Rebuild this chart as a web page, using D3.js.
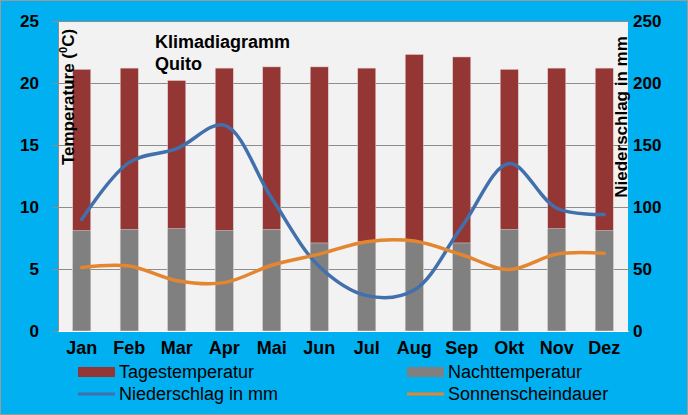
<!DOCTYPE html>
<html><head><meta charset="utf-8">
<script src="https://cdn.jsdelivr.net/npm/d3@7"></script>
<style>html,body{margin:0;padding:0;background:#00B0F0;}svg{display:block;}</style>
</head><body>
<script>
const months = ["Jan","Feb","Mar","Apr","Mai","Jun","Jul","Aug","Sep","Okt","Nov","Dez"];
const tagestemperatur = [21.1,21.2,20.2,21.2,21.3,21.3,21.2,22.3,22.1,21.1,21.2,21.2];
const nachttemperatur = [8.1,8.2,8.25,8.1,8.2,7.1,7.2,7.2,7.1,8.2,8.25,8.1];
const niederschlag = [90,136,147,166,107,52,28.5,33,84,135,99,94];
const sonnenschein = [5.13,5.24,4.06,3.9,5.3,6.2,7.2,7.25,6.15,4.95,6.2,6.26];
const leftTicks = [0,5,10,15,20,25];
const rightTicks = [0,50,100,150,200,250];

const W=688,H=415;
const m={l:58,r:628,t:21,b:331};
const svg=d3.select("body").append("svg").attr("width",W).attr("height",H);
svg.append("rect").attr("x",0.5).attr("y",0.5).attr("width",W-1).attr("height",H-1).attr("fill","#00B0F0").attr("stroke","#9a9a9a");
svg.append("rect").attr("x",m.l).attr("y",m.t).attr("width",m.r-m.l).attr("height",m.b-m.t).attr("fill","#F2F2F2");

const x=d3.scaleBand().domain(months).range([m.l,m.r]).padding(0);
const yL=d3.scaleLinear().domain([0,25]).range([m.b,m.t]);
const yR=d3.scaleLinear().domain([0,250]).range([m.b,m.t]);
const font="'Liberation Sans', Arial, sans-serif";

// grid
svg.append("g").selectAll("line").data(leftTicks.slice(1)).join("line")
  .attr("x1",m.l).attr("x2",m.r).attr("y1",d=>Math.round(yL(d))+0.5).attr("y2",d=>Math.round(yL(d))+0.5)
  .attr("stroke","#8c8c8c").attr("stroke-width",1);

// bars
const bw=x.bandwidth()*0.38;
svg.append("g").selectAll("rect").data(months).join("rect")
  .attr("x",d=>x(d)+x.bandwidth()/2-bw/2).attr("width",bw)
  .attr("y",(d,i)=>yL(tagestemperatur[i])).attr("height",(d,i)=>yL(0)-yL(tagestemperatur[i]))
  .attr("fill","#943634").attr("stroke","#e6d0d0").attr("stroke-width",0.5);
svg.append("g").selectAll("rect").data(months).join("rect")
  .attr("x",d=>x(d)+x.bandwidth()/2-bw/2).attr("width",bw)
  .attr("y",(d,i)=>yL(nachttemperatur[i])).attr("height",(d,i)=>yL(0)-yL(nachttemperatur[i]))
  .attr("fill","#808080").attr("stroke","#dcdcdc").attr("stroke-width",0.5);

// lines
const cx=d=>x(d)+x.bandwidth()/2;
const lineR=d3.line().x((d,i)=>cx(months[i])).y(d=>yR(d)).curve(d3.curveCatmullRom.alpha(0.5));
const lineL=d3.line().x((d,i)=>cx(months[i])).y(d=>yL(d)).curve(d3.curveCatmullRom.alpha(0.5));
svg.append("path").attr("d",lineR(niederschlag)).attr("fill","none").attr("stroke","#4170AC").attr("stroke-width",3.5).attr("stroke-linecap","round");
svg.append("path").attr("d",lineL(sonnenschein)).attr("fill","none").attr("stroke","#E3862F").attr("stroke-width",3.5).attr("stroke-linecap","round");

// axes
const axL=d3.axisLeft(yL).tickValues(leftTicks).tickSize(6).tickPadding(13);
const gL=svg.append("g").attr("transform",`translate(${m.l},0)`).call(axL);
gL.select(".domain").attr("stroke","#8c8c8c");
gL.selectAll(".tick line").attr("stroke","#8c8c8c");
gL.selectAll("text").attr("font-family",font).attr("font-size",17).attr("font-weight","bold").attr("fill","#000");

const axR=d3.axisRight(yR).tickValues(rightTicks).tickSize(2).tickPadding(3);
const gR=svg.append("g").attr("transform",`translate(${m.r},0)`).call(axR);
gR.select(".domain").remove();
gR.selectAll(".tick line").attr("stroke","#8c8c8c");
gR.selectAll("text").attr("font-family",font).attr("font-size",17).attr("font-weight","bold").attr("fill","#000");

const axB=d3.axisBottom(x).tickSize(0).tickPadding(10);
const gB=svg.append("g").attr("transform",`translate(0,${m.b})`).call(axB);
gB.select(".domain").attr("stroke","#ffffff");
gB.selectAll("text").attr("font-family",font).attr("font-size",18).attr("font-weight","bold").attr("fill","#000");

// axis titles
const tl=svg.append("text").attr("transform","translate(74,97) rotate(-90)").attr("text-anchor","middle")
  .attr("font-family",font).attr("font-size",17).attr("font-weight","bold").attr("fill","#000");
tl.append("tspan").text("Temperature (");
tl.append("tspan").attr("font-size",11).attr("dy",-7).text("0");
tl.append("tspan").attr("dy",7).text("C)");
svg.append("text").attr("transform","translate(627,117) rotate(-90)").attr("text-anchor","middle")
  .attr("font-family",font).attr("font-size",17).attr("font-weight","bold").attr("fill","#000").text("Niederschlag in mm");

// title
svg.append("text").attr("x",155).attr("y",48).attr("font-family",font).attr("font-size",18).attr("font-weight","bold").text("Klimadiagramm");
svg.append("text").attr("x",155).attr("y",70).attr("font-family",font).attr("font-size",18).attr("font-weight","bold").text("Quito");

// legend
const legend=[
  {name:"Tagestemperatur",type:"rect",color:"#943634",x:78,y:372},
  {name:"Nachttemperatur",type:"rect",color:"#808080",x:407,y:372},
  {name:"Niederschlag in mm",type:"line",color:"#4170AC",x:78,y:394},
  {name:"Sonnenscheindauer",type:"line",color:"#E3862F",x:407,y:394}
];
const lg=svg.append("g").selectAll("g").data(legend).join("g").attr("transform",d=>`translate(${d.x},${d.y})`);
lg.filter(d=>d.type==="rect").append("rect").attr("x",0).attr("y",-5).attr("width",37).attr("height",10).attr("fill",d=>d.color);
lg.filter(d=>d.type==="line").append("line").attr("x1",0).attr("x2",37).attr("y1",0).attr("y2",0).attr("stroke",d=>d.color).attr("stroke-width",3);
lg.append("text").attr("x",41).attr("y",0).attr("dy","0.35em").attr("font-family",font).attr("font-size",18).attr("fill","#000").text(d=>d.name);
</script>
</body></html>
